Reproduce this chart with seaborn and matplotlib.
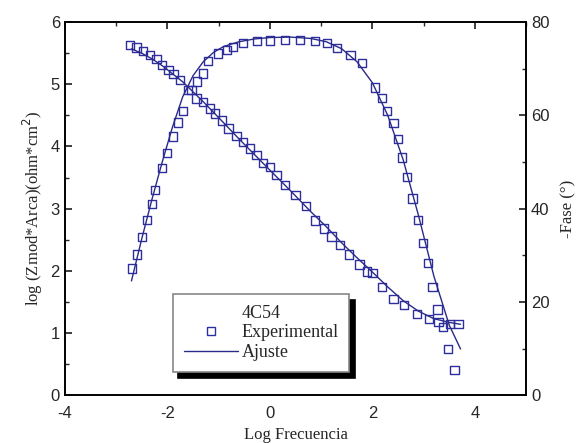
import matplotlib
matplotlib.use("Agg")
import matplotlib.pyplot as plt
from matplotlib.font_manager import FontProperties
from matplotlib.lines import Line2D
from matplotlib.ticker import MultipleLocator
import seaborn as sns

# experimental |Z| (log) vs log frequency
freq_z = [-2.73, -2.60, -2.47, -2.34, -2.21, -2.11, -1.98, -1.88, -1.75, -1.53,
          -1.43, -1.30, -1.17, -1.07, -0.94, -0.81, -0.65, -0.52, -0.39, -0.26,
          -0.13, 0.00, 0.13, 0.30, 0.50, 0.70, 0.88, 1.05, 1.20, 1.37, 1.55,
          1.75, 1.90, 2.00, 2.19, 2.41, 2.61, 2.87, 3.10, 3.29, 3.52, 3.68]
logz_exp = [5.63, 5.59, 5.54, 5.47, 5.41, 5.31, 5.23, 5.17, 5.07, 4.91,
            4.77, 4.72, 4.61, 4.53, 4.42, 4.29, 4.17, 4.07, 3.97, 3.86,
            3.73, 3.67, 3.54, 3.38, 3.22, 3.04, 2.81, 2.68, 2.55, 2.41, 2.26,
            2.10, 1.99, 1.96, 1.74, 1.55, 1.45, 1.31, 1.23, 1.18, 1.14, 1.14]

# experimental phase
freq_ph = [-2.69, -2.59, -2.50, -2.40, -2.30, -2.24, -2.11, -2.01, -1.89, -1.79,
           -1.70, -1.60, -1.42, -1.30, -1.21, -1.01, -0.84, -0.72, -0.52, -0.25,
           0.00, 0.30, 0.59, 0.88, 1.12, 1.31, 1.57, 1.80, 2.05, 2.19, 2.29,
           2.41, 2.50, 2.58, 2.68, 2.78, 2.89, 2.99, 3.09, 3.17, 3.27, 3.38,
           3.48, 3.60]
phase_exp = [27.2, 30.2, 33.9, 37.5, 41.0, 44.0, 48.7, 52.0, 55.5, 58.5,
             61.0, 65.4, 67.3, 69.0, 71.6, 73.3, 74.0, 74.6, 75.5, 76.0,
             76.1, 76.2, 76.2, 76.0, 75.5, 74.4, 73.0, 71.2, 66.0, 63.7, 61.0,
             58.3, 55.0, 51.0, 46.8, 42.2, 37.5, 32.6, 28.3, 23.2, 18.4, 14.6,
             9.9, 5.4]

# fitted model
freq_fit = [-2.7, -2.5, -2.3, -2.1, -1.9, -1.7, -1.5, -1.3, -1.1, -0.9, -0.6,
            -0.3, 0.0, 0.4, 0.8, 1.1, 1.4, 1.7, 2.0, 2.3, 2.6, 2.9, 3.2, 3.5, 3.72]
logz_fit = [5.57, 5.50, 5.41, 5.30, 5.17, 5.04, 4.88, 4.72, 4.55, 4.38, 4.12,
            3.87, 3.62, 3.29, 2.95, 2.71, 2.45, 2.21, 1.98, 1.74, 1.52, 1.35,
            1.23, 1.17, 1.14]
phase_fit = [24.5, 33.5, 42.0, 50.0, 57.5, 64.0, 68.5, 71.5, 73.5, 74.8, 75.8,
             76.4, 76.7, 76.8, 76.5, 75.8, 74.3, 71.5, 67.0, 60.0, 50.5, 38.5,
             25.5, 15.0, 9.9]

MARK_COLOR = "#2e2e9e"
LINE_COLOR = "#2a2a8a"


def style_axis(ax):
    ax.tick_params(direction="in", which="both", top=True, labelsize=12)
    ax.tick_params(which="major", length=5)
    ax.tick_params(which="minor", length=3)
    for sp in ax.spines.values():
        sp.set_linewidth(1.2)
        sp.set_color("black")


def main() -> None:
    sns.set_theme(style="white")
    plt.rcParams["font.family"] = ["Liberation Sans", "DejaVu Sans"]
    plt.rcParams["axes.unicode_minus"] = False

    fig = plt.figure(figsize=(5.84, 4.43), dpi=100)
    ax = fig.add_axes([0.111, 0.108, 0.790, 0.842])
    ax2 = ax.twinx()

    sns.scatterplot(x=freq_z, y=logz_exp, ax=ax, marker="s", s=36,
                    facecolor="none", edgecolor=MARK_COLOR, linewidth=1.0)
    sns.lineplot(x=freq_fit, y=logz_fit, ax=ax, color=LINE_COLOR,
                 linewidth=1.0, sort=False)
    sns.scatterplot(x=freq_ph, y=phase_exp, ax=ax2, marker="s", s=36,
                    facecolor="none", edgecolor=MARK_COLOR, linewidth=1.0)
    sns.lineplot(x=freq_fit, y=phase_fit, ax=ax2, color=LINE_COLOR,
                 linewidth=1.0, sort=False)

    ax.set_xlim(-4, 5)
    ax.set_ylim(0, 6)
    ax2.set_ylim(0, 80)
    ax.xaxis.set_major_locator(MultipleLocator(2))
    ax.xaxis.set_minor_locator(MultipleLocator(1))
    ax.yaxis.set_major_locator(MultipleLocator(1))
    ax.yaxis.set_minor_locator(MultipleLocator(0.5))
    ax2.yaxis.set_major_locator(MultipleLocator(20))
    ax2.yaxis.set_minor_locator(MultipleLocator(10))
    style_axis(ax)
    style_axis(ax2)
    ax.tick_params(right=False, which="both")
    ax.tick_params(axis="x", pad=8)

    serif = ["Liberation Serif", "DejaVu Serif"]
    ax.set_xlabel("Log Frecuencia", family=serif, fontsize=12, labelpad=4)
    ax.set_ylabel("log (Zmod*Arca)(ohm*cm$^2$)", family=serif, fontsize=12)
    ax2.set_ylabel("-Fase (°)", family=serif, fontsize=12, labelpad=8)

    handles = [
        Line2D([], [], marker="s", linestyle="none", markersize=6,
               markerfacecolor="none", markeredgecolor=MARK_COLOR),
        Line2D([], [], color=LINE_COLOR, linewidth=1.0),
    ]
    leg_font = FontProperties(family="Liberation Serif", size=13)
    leg = ax2.legend(handles, ["Experimental", "Ajuste"], title="4C54",
                     loc="lower left", bbox_to_anchor=(0.234, 0.062),
                     borderaxespad=0, fancybox=False, frameon=True,
                     prop=leg_font, title_fontproperties=leg_font,
                     handlelength=3.0, handletextpad=0.2, labelspacing=0.15,
                     borderpad=0.6,
                     shadow={"color": "black", "alpha": 1, "ox": 4, "oy": -4})
    leg.get_frame().set_edgecolor("#888888")
    leg.get_frame().set_linewidth(1.2)

    fig.savefig("out.png", dpi=100)


if __name__ == "__main__":
    main()
